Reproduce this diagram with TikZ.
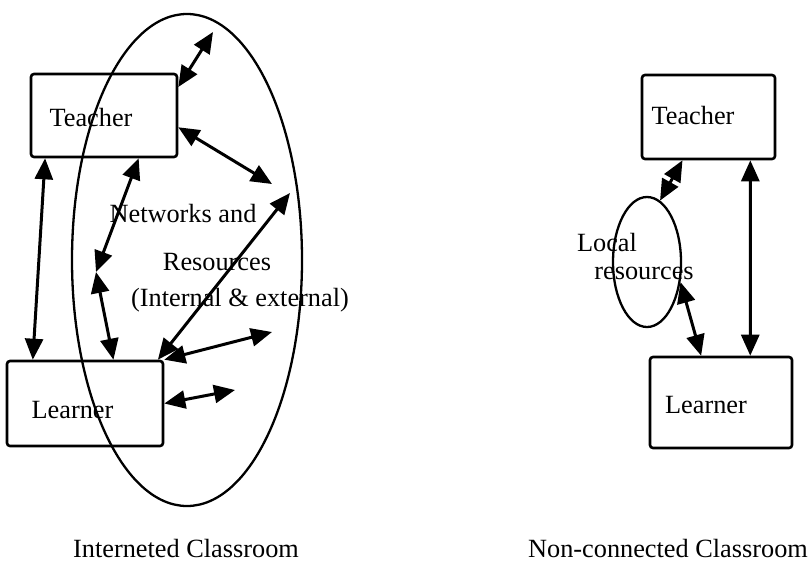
\documentclass[tikz,border=0pt]{standalone}
\usepackage{fontspec}
\setmainfont{Liberation Serif}
\usetikzlibrary{arrows.meta,shapes.geometric}
\begin{document}
\begin{tikzpicture}[x=1pt,y=-1pt,
  box/.style={draw,line width=2.6pt,rounded corners=3pt,inner sep=0pt},
  lbl/.style={inner sep=0pt,font=\fontsize{26.3}{31}\selectfont},
  dbl/.style={line width=3pt,{Triangle[length=21pt,width=18pt]}-{Triangle[length=21pt,width=18pt]}},
  oval/.style={draw,ellipse,line width=2.3pt,inner sep=0pt}]
\useasboundingbox (0,0) rectangle (810,563);
% left diagram
\node[oval,minimum width=230pt,minimum height=492pt] (E1) at (187,260) {};
\node[box,minimum width=146pt,minimum height=83pt] (T1) at (104,115.5) {};
\node[box,minimum width=156pt,minimum height=85pt] (L1) at (85,403.5) {};
\node[lbl] (t1) at (91,117) {Teacher};
\node[lbl] (l1) at (72.5,410) {Learner};
\node[lbl] (n1) at (183,213) {Networks and};
\node[lbl] (n2) at (217,262) {Resources};
\node[lbl] (n3) at (240,300) {(Internal \& external)};
\coordinate (a1) at (213,32);
\coordinate (a2) at (272,184);
\coordinate (m) at (96,272);
\coordinate (a6) at (290,193);
\coordinate (a7) at (272,332);
\coordinate (a8) at (235,390);
\draw[dbl] (T1.21) -- (a1);
\draw[dbl] (T1.-9) -- (a2);
\draw[dbl] (T1.-144) -- (L1.140);
\draw[dbl] (T1.-51) -- (m);
\draw[dbl] (m) -- (L1.57);
\draw[dbl] (L1.31) -- (a6);
\draw[dbl] (L1.north east) -- (a7);
\draw[dbl] (L1.east) -- (a8);
\node[lbl] (c1) at (186,548) {Interneted Classroom};
% right diagram
\node[box,minimum width=133pt,minimum height=84pt] (T2) at (708.5,117) {};
\node[box,minimum width=142pt,minimum height=91pt] (L2) at (721,402.5) {};
\node[oval,minimum width=68pt,minimum height=130pt] (E2) at (647,262) {};
\node[lbl] (t2) at (693,115) {Teacher};
\node[lbl] (l2) at (706,405) {Learner};
\node[lbl] (r1) at (607,242) {Local};
\node[lbl] (r2) at (644,273) {resources};
\draw[dbl] (T2.-121) -- (E2.78);
\draw[dbl] (E2.-31) -- (L2.113);
\draw[dbl] (T2.-46) -- (L2.58);
\node[lbl] (c2) at (668,548) {Non-connected Classroom};
\end{tikzpicture}
\end{document}
